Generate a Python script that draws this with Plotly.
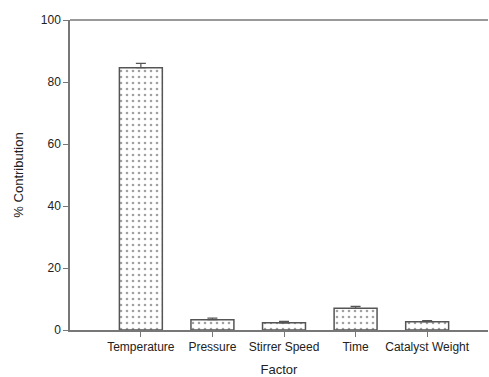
import plotly.graph_objects as go

factors = ["Temperature", "Pressure", "Stirrer Speed", "Time", "Catalyst Weight"]
contribution = [84.6, 3.3, 2.3, 7.0, 2.7]
errors = [1.4, 0.5, 0.5, 0.6, 0.3]

fig = go.Figure()
fig.add_trace(go.Bar(
    x=list(range(len(factors))),
    y=contribution,
    width=0.6,
    marker=dict(
        color="white",
        line=dict(color="#555555", width=1.5),
        pattern=dict(shape=".", fgcolor="#444444", bgcolor="white", size=6, solidity=0.15),
    ),
    error_y=dict(type="data", array=errors, arrayminus=[0]*len(errors),
                 color="#555555", thickness=1.2, width=5),
))

fig.add_shape(type="line", xref="paper", yref="paper", x0=0, x1=1, y0=1, y1=1,
              line=dict(color="#777777", width=1.5))

fig.update_layout(
    width=489, height=377,
    margin=dict(l=70, r=1, t=20, b=47, pad=0, autoexpand=False),
    plot_bgcolor="white", paper_bgcolor="white",
    font=dict(family="Liberation Sans, Arial, sans-serif", size=12, color="#222222"),
    showlegend=False,
)
fig.update_xaxes(
    range=[-0.99, 4.85], automargin=False,
    tickmode="array", tickvals=list(range(len(factors))), ticktext=factors,
    showline=True, linecolor="#777777", linewidth=1.5,
    ticks="outside", ticklen=5, tickcolor="#777777",
    showgrid=False, zeroline=False,
    title=dict(text="Factor", font=dict(size=13), standoff=15),
)
fig.update_yaxes(
    range=[0, 100], tickvals=[0, 20, 40, 60, 80, 100], automargin=False,
    showline=True, linecolor="#777777", linewidth=1.5,
    ticks="outside", ticklen=5, tickcolor="#777777",
    showgrid=False, zeroline=False,
    title=dict(text="% Contribution", font=dict(size=13), standoff=14),
)

fig.write_html("out.html", config={"displayModeBar": False})
